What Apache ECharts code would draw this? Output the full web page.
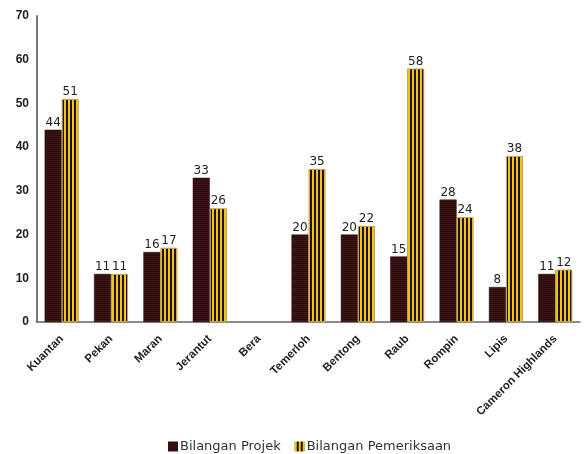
<!DOCTYPE html>
<html>
<head>
<meta charset="utf-8">
<script src="https://cdn.jsdelivr.net/npm/echarts@6/dist/echarts.min.js"></script>
<style>
  html, body { margin: 0; padding: 0; background: #fff; }
  #chart { width: 587px; height: 454px; }
</style>
</head>
<body>
<div id="chart"></div>
<script>
// District names along the x axis
const districts = ['Kuantan', 'Pekan', 'Maran', 'Jerantut', 'Bera', 'Temerloh', 'Bentong', 'Raub', 'Rompin', 'Lipis', 'Cameron Highlands'];
// Number of projects per district
const projek = [44, 11, 16, 33, 0, 20, 20, 15, 28, 8, 11];
// Number of inspections per district
const pemeriksaan = [51, 11, 17, 26, 0, 35, 22, 58, 24, 38, 12];
// Value axis ticks
const yMin = 0, yMax = 70, yStep = 10;

// Fine horizontal hatching for the dark bars
function hatchDark() {
  const c = document.createElement('canvas');
  c.width = 4; c.height = 2;
  const g = c.getContext('2d');
  g.fillStyle = '#3e1515'; g.fillRect(0, 0, 4, 2);
  g.fillStyle = '#2a0c0c'; g.fillRect(0, 1, 4, 1);
  return c;
}
// Vertical yellow/black stripes
function stripeYellow() {
  const c = document.createElement('canvas');
  c.width = 4; c.height = 4;
  const g = c.getContext('2d');
  g.fillStyle = '#f6c21c'; g.fillRect(0, 0, 4, 4);
  g.fillStyle = '#1c1408'; g.fillRect(2, 0, 2, 4);
  return c;
}

const darkFill = { image: hatchDark(), repeat: 'repeat' };
const yellowFill = { image: stripeYellow(), repeat: 'repeat' };

// Empty bars get no outline so nothing shows for a zero value
function withBorder(values, width) {
  return values.map(v => ({ value: v, itemStyle: { borderWidth: v === 0 ? 0 : width } }));
}

const labelCfg = {
  show: true,
  position: 'top',
  distance: 1,
  color: '#222',
  fontFamily: 'DejaVu Sans',
  fontSize: 12,
  formatter: p => (p.value === 0 ? '' : p.value)
};

const chart = echarts.init(document.getElementById('chart'));
chart.setOption({
  animation: false,
  backgroundColor: '#fff',
  grid: { left: 37, right: 7, top: 16, bottom: 132, containLabel: false },
  legend: {
    top: 435,
    left: 163,
    itemWidth: 10,
    itemHeight: 10,
    itemGap: 14,
    icon: 'rect',
    textStyle: { fontFamily: 'DejaVu Sans', fontSize: 13, color: '#333', padding: [0, 0, 0, -3] },
    data: ['Bilangan Projek', 'Bilangan Pemeriksaan']
  },
  xAxis: {
    type: 'category',
    data: districts,
    axisLine: { lineStyle: { color: '#666', width: 1.5 } },
    axisTick: { show: false },
    axisLabel: {
      interval: 0,
      rotate: 45,
      color: '#222',
      fontFamily: 'Liberation Sans',
      fontWeight: 'bold',
      fontSize: 11.5,
      margin: 15
    }
  },
  yAxis: {
    type: 'value',
    min: yMin,
    max: yMax,
    interval: yStep,
    axisLine: { show: true, lineStyle: { color: '#777', width: 2 } },
    axisTick: { show: false },
    splitLine: { show: false },
    axisLabel: {
      color: '#222',
      fontFamily: 'Liberation Sans',
      fontWeight: 'bold',
      fontSize: 12,
      margin: 8
    }
  },
  series: [
    {
      name: 'Bilangan Projek',
      type: 'bar',
      data: withBorder(projek, 0.5),
      barGap: '0%',
      barCategoryGap: '31%',
      itemStyle: { color: darkFill, borderColor: '#2a0c0c' },
      label: labelCfg
    },
    {
      name: 'Bilangan Pemeriksaan',
      type: 'bar',
      data: withBorder(pemeriksaan, 1),
      itemStyle: { color: yellowFill, borderColor: '#c9a24a' },
      label: labelCfg
    }
  ]
});
</script>
</body>
</html>
